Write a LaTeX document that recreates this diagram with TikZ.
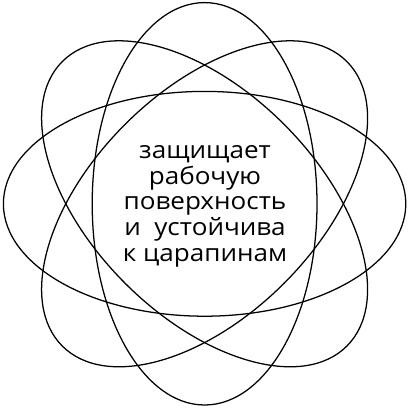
\documentclass[tikz,border=0pt]{standalone}
\usepackage{fontspec}
\setmainfont[FakeStretch=1.09]{Open Sans}
\tikzset{
	orbit/.style={line width=0.9pt, black},
	caption/.style={align=center, font=\fontsize{17}{18.2}\selectfont, inner sep=0pt}
}

\begin{document}
\begin{tikzpicture}
			%%%%% START %%%%%
			
			\useasboundingbox (-5.125, -5.125) rectangle (5.125, 5.125);
			
			\draw[orbit] (-0.01, 0.03) ellipse (5.03 and 2.81);
			\draw[orbit, rotate around={90:(-0.01, 0.03)}] (-0.01, 0.03) ellipse (5.03 and 2.81);
			\draw[orbit, rotate around={45:(-0.01, 0.03)}] (-0.01, 0.03) ellipse (5.03 and 2.81);
			\draw[orbit, rotate around={135:(-0.01, 0.03)}] (-0.01, 0.03) ellipse (5.03 and 2.81);
			
			\node[caption] (slogan) at (0, -0.03) {защищает\\рабочую\\поверхность\\и\ \ устойчива\\к царапинам};
			
			%%%%% END %%%%%
		\end{tikzpicture}
\end{document}
